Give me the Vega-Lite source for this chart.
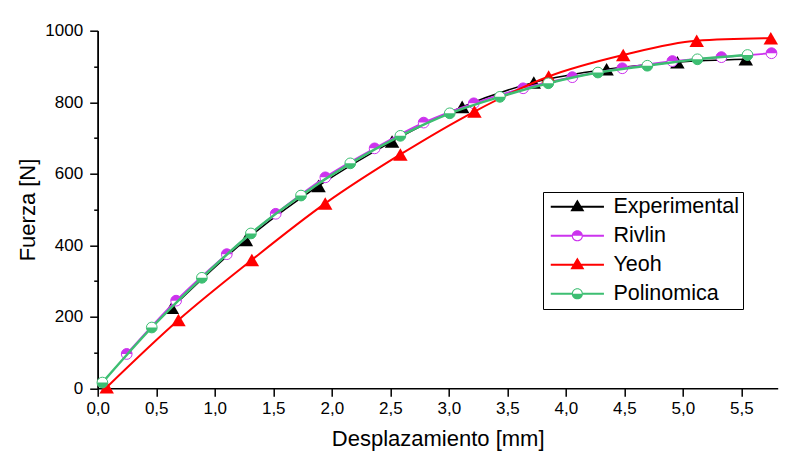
{
  "$schema": "https://vega.github.io/schema/vega-lite/v6.json",
  "width": 680,
  "height": 357.6,
  "autosize": {"type": "none"},
  "padding": {"left": 97.7, "top": 30.7, "right": 11.3, "bottom": 71.7},
  "background": "white",
  "config": {
    "font": "Liberation Sans",
    "view": {"stroke": null},
    "axis": {
      "domainColor": "black", "domainWidth": 1.5,
      "tickColor": "black", "tickWidth": 1.5,
      "labelColor": "black", "titleColor": "black",
      "labelFont": "Liberation Sans", "titleFont": "Liberation Sans",
      "labelFontSize": 17, "titleFontSize": 22, "titleFontWeight": "normal",
      "grid": false
    }
  },
  "datasets": {
    "pts": [
      {"serie": "Experimental", "x": 0.633, "y": 225},
      {"serie": "Experimental", "x": 1.266, "y": 415},
      {"serie": "Experimental", "x": 1.887, "y": 566},
      {"serie": "Experimental", "x": 2.515, "y": 690},
      {"serie": "Experimental", "x": 3.114, "y": 787},
      {"serie": "Experimental", "x": 3.726, "y": 855},
      {"serie": "Experimental", "x": 4.348, "y": 892},
      {"serie": "Experimental", "x": 4.953, "y": 912},
      {"serie": "Experimental", "x": 5.537, "y": 920},
      {"serie": "Rivlin", "x": 0.248, "y": 96},
      {"serie": "Rivlin", "x": 0.67, "y": 245},
      {"serie": "Rivlin", "x": 1.103, "y": 375},
      {"serie": "Rivlin", "x": 1.521, "y": 488},
      {"serie": "Rivlin", "x": 1.945, "y": 590},
      {"serie": "Rivlin", "x": 2.366, "y": 671},
      {"serie": "Rivlin", "x": 2.785, "y": 743},
      {"serie": "Rivlin", "x": 3.213, "y": 797},
      {"serie": "Rivlin", "x": 3.635, "y": 839},
      {"serie": "Rivlin", "x": 4.055, "y": 870},
      {"serie": "Rivlin", "x": 4.482, "y": 895},
      {"serie": "Rivlin", "x": 4.91, "y": 915},
      {"serie": "Rivlin", "x": 5.329, "y": 926},
      {"serie": "Rivlin", "x": 5.757, "y": 937},
      {"serie": "Yeoh", "x": 0.077, "y": 3},
      {"serie": "Yeoh", "x": 0.69, "y": 191},
      {"serie": "Yeoh", "x": 1.317, "y": 359},
      {"serie": "Yeoh", "x": 1.944, "y": 517},
      {"serie": "Yeoh", "x": 2.586, "y": 654},
      {"serie": "Yeoh", "x": 3.219, "y": 774},
      {"serie": "Yeoh", "x": 3.853, "y": 872},
      {"serie": "Yeoh", "x": 4.49, "y": 932},
      {"serie": "Yeoh", "x": 5.118, "y": 972},
      {"serie": "Yeoh", "x": 5.751, "y": 979},
      {"serie": "Polinomica", "x": 0.04, "y": 16},
      {"serie": "Polinomica", "x": 0.462, "y": 170},
      {"serie": "Polinomica", "x": 0.89, "y": 309},
      {"serie": "Polinomica", "x": 1.309, "y": 433},
      {"serie": "Polinomica", "x": 1.737, "y": 539},
      {"serie": "Polinomica", "x": 2.158, "y": 629},
      {"serie": "Polinomica", "x": 2.586, "y": 706},
      {"serie": "Polinomica", "x": 3.008, "y": 769},
      {"serie": "Polinomica", "x": 3.436, "y": 815},
      {"serie": "Polinomica", "x": 3.85, "y": 853},
      {"serie": "Polinomica", "x": 4.274, "y": 883},
      {"serie": "Polinomica", "x": 4.696, "y": 902},
      {"serie": "Polinomica", "x": 5.124, "y": 920},
      {"serie": "Polinomica", "x": 5.552, "y": 932}
    ]
  },
  "data": {"name": "pts"},
  "layer": [
    {
      "encoding": {
        "x": {
          "field": "x", "type": "quantitative",
          "scale": {"domain": [0, 5.81], "nice": false, "zero": false},
          "axis": {
            "title": "Desplazamiento [mm]",
            "values": [0, 0.5, 1, 1.5, 2, 2.5, 3, 3.5, 4, 4.5, 5, 5.5],
            "labelExpr": "replace(format(datum.value, '.1f'), '.', ',')",
            "tickSize": 8, "labelPadding": 4, "titlePadding": 12,
            "labelFlush": false, "labelOverlap": false, "domain": true
          }
        },
        "y": {
          "field": "y", "type": "quantitative",
          "scale": {"domain": [0, 1000], "nice": false},
          "axis": {
            "title": "Fuerza [N]",
            "values": [0, 200, 400, 600, 800, 1000],
            "format": "d", "domain": true,
            "tickSize": 8, "labelPadding": 7, "titlePadding": 5,
            "labelFlush": false, "labelOverlap": false
          }
        }
      },
      "layer": [
        {
          "transform": [{"filter": "datum.serie === 'Experimental'"}],
          "mark": {"type": "line", "color": "black", "strokeWidth": 1.5, "interpolate": "monotone"}
        },
        {
          "transform": [{"filter": "datum.serie === 'Experimental'"}],
          "mark": {"type": "point", "shape": "triangle-up", "filled": true, "color": "black", "size": 210, "opacity": 1}
        },
        {
          "transform": [{"filter": "datum.serie === 'Rivlin'"}],
          "mark": {"type": "line", "color": "#CC33EE", "strokeWidth": 1.8, "interpolate": "monotone"}
        },
        {
          "transform": [{"filter": "datum.serie === 'Rivlin'"}],
          "mark": {"type": "point", "shape": "circle", "filled": true, "fill": "white", "stroke": "#CC33EE", "strokeWidth": 1, "size": 115, "opacity": 1, "fillOpacity": 1}
        },
        {
          "transform": [{"filter": "datum.serie === 'Rivlin'"}],
          "mark": {"type": "point", "shape": "M-1,0A1,1 0 0,1 1,0Z", "filled": true, "fill": "#CC33EE", "strokeWidth": 0, "size": 115, "opacity": 1}
        },
        {
          "transform": [{"filter": "datum.serie === 'Yeoh'"}],
          "mark": {"type": "line", "color": "#FF0000", "strokeWidth": 2, "interpolate": "monotone"}
        },
        {
          "transform": [{"filter": "datum.serie === 'Yeoh'"}],
          "mark": {"type": "point", "shape": "triangle-up", "filled": true, "color": "#FF0000", "size": 210, "opacity": 1}
        },
        {
          "transform": [{"filter": "datum.serie === 'Polinomica'"}],
          "mark": {"type": "line", "color": "#3DBE72", "strokeWidth": 2.5, "interpolate": "monotone"}
        },
        {
          "transform": [{"filter": "datum.serie === 'Polinomica'"}],
          "mark": {"type": "point", "shape": "circle", "filled": true, "fill": "white", "stroke": "#3DBE72", "strokeWidth": 1, "size": 115, "opacity": 1, "fillOpacity": 1}
        },
        {
          "transform": [{"filter": "datum.serie === 'Polinomica'"}],
          "mark": {"type": "point", "shape": "M-1,0A1,1 0 0,0 1,0Z", "filled": true, "fill": "#3DBE72", "strokeWidth": 0, "size": 115, "opacity": 1}
        }
      ]
    },
    {
      "transform": [{"filter": "datum.x < 0"}],
      "mark": {"type": "point", "filled": true, "strokeWidth": 0},
      "encoding": {
        "y": {
          "field": "y", "type": "quantitative",
          "axis": {
            "orient": "left", "values": [100, 300, 500, 700, 900],
            "labels": false, "domain": true, "title": null, "tickSize": 4
          }
        },
        "fill": {
          "field": "serie", "type": "nominal",
          "scale": {"domain": ["Experimental", "Rivlin", "Yeoh", "Polinomica"], "range": ["#000000", "#CC33EE", "#FF0000", "#3DBE72"]},
          "legend": {
            "title": null, "orient": "none", "legendX": 445.3, "legendY": 161.3,
            "symbolSize": 196, "symbolStrokeWidth": 0, "symbolOpacity": 1,
            "labelFont": "Liberation Sans", "labelFontSize": 21.5, "labelColor": "black",
            "labelOffset": 45, "rowPadding": 6, "padding": 4, "labelLimit": 300,
            "strokeColor": "black", "fillColor": "white"
          }
        },
        "shape": {
          "field": "serie", "type": "nominal",
          "scale": {
            "domain": ["Experimental", "Rivlin", "Yeoh", "Polinomica"],
            "range": [
              "M-1,-0.15H6.6V0.15H-1Z M2.8,-1.05L3.8,0.65H1.8Z",
              "M-1,-0.13H2.0V0.13H-1Z M3.6,-0.13H6.6V0.13H3.6Z M2.0,0A0.8,0.8 0 0,1 3.6,0Z M2.0,0A0.8,0.8 0 0,0 3.6,0L3.44,0A0.64,0.64 0 0,1 2.16,0Z",
              "M-1,-0.15H6.6V0.15H-1Z M2.8,-1.05L3.8,0.65H1.8Z",
              "M-1,-0.15H2.0V0.15H-1Z M3.6,-0.15H6.6V0.15H3.6Z M2.0,0A0.8,0.8 0 0,1 3.6,0L3.44,0A0.64,0.64 0 0,0 2.16,0Z M2.0,0A0.8,0.8 0 0,0 3.6,0Z"
            ]
          },
          "legend": {
            "title": null, "orient": "none", "legendX": 445.3, "legendY": 161.3,
            "symbolSize": 196, "symbolStrokeWidth": 0, "symbolOpacity": 1,
            "labelFont": "Liberation Sans", "labelFontSize": 21.5, "labelColor": "black",
            "labelOffset": 45, "rowPadding": 6, "padding": 4, "labelLimit": 300,
            "strokeColor": "black", "fillColor": "white"
          }
        }
      }
    }
  ],
  "resolve": {"axis": {"y": "independent"}}
}
